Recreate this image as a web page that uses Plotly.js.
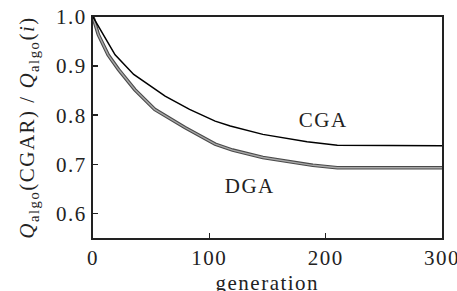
<!DOCTYPE html>
<html><head><meta charset="utf-8">
<script src="https://cdn.plot.ly/plotly-3.0.1.min.js"></script>
<style>body{margin:0;padding:0;background:#fff}#chart{width:457px;height:291px}#chart text{letter-spacing:1.5px}</style>
</head><body><div id="chart"></div>
<script>
const cgaGen = [0, 9, 19, 35, 62, 83, 105, 118, 146, 184, 210, 300];
const cgaVal = [1.0, 0.964, 0.923, 0.883, 0.839, 0.812, 0.788, 0.778, 0.761, 0.746, 0.739, 0.738];
const dgaGen = [0, 4.6, 13, 22, 36, 53, 79, 105, 120, 146, 189, 210, 300];
const dgaVal = [1.0, 0.964, 0.923, 0.893, 0.852, 0.812, 0.775, 0.741, 0.729, 0.714, 0.698, 0.693, 0.693];
const xTicks = [0, 100, 200, 300];
const yTicks = [0.6, 0.7, 0.8, 0.9, 1.0];
const xTitle = 'generation';
const yTitle = '<i>Q</i><sub>algo</sub>(CGAR) / <i>Q</i><sub>algo</sub>(<i>i</i>)';
const fontFam = 'Liberation Serif';

const traces = [
  {x: dgaGen, y: dgaVal, mode: 'lines', line: {color: '#4a4a4a', width: 3.6}, hoverinfo: 'skip'},
  {x: dgaGen, y: dgaVal, mode: 'lines', line: {color: '#a8a8a8', width: 1.4}, hoverinfo: 'skip'},
  {x: cgaGen, y: cgaVal, mode: 'lines', line: {color: '#000', width: 1.5}, hoverinfo: 'skip'}
];
const layout = {
  width: 457, height: 291,
  margin: {l: 93, r: 15, t: 17, b: 53},
  showlegend: false,
  paper_bgcolor: '#fff', plot_bgcolor: '#fff',
  font: {family: fontFam, size: 21, color: '#222'},
  xaxis: {
    range: [0, 300], tickvals: xTicks, ticktext: xTicks.map(String),
    ticks: 'inside', ticklen: 5, tickwidth: 1.5, tickcolor: '#222',
    showline: true, linecolor: '#222', linewidth: 2, mirror: true,
    showgrid: false, zeroline: false, ticklabeloverflow: 'allow',
    tickfont: {family: fontFam, size: 21}
  },
  yaxis: {
    range: [0.55, 1.0], tickvals: yTicks, ticktext: yTicks.map(v => v.toFixed(1)),
    ticks: 'inside', ticklen: 5, tickwidth: 1.5, tickcolor: '#222',
    showline: true, linecolor: '#222', linewidth: 2, mirror: true,
    showgrid: false, zeroline: false,
    tickfont: {family: fontFam, size: 21},
    title: {text: yTitle, font: {family: fontFam, size: 21}, standoff: 20}
  },
  annotations: [
    {x: 0.5, y: -0.205, xref: 'paper', yref: 'paper', xanchor: 'center', yanchor: 'middle', text: xTitle, showarrow: false, font: {family: fontFam, size: 21, color: '#222'}},
    {x: 198, y: 0.79, xref: 'x', yref: 'y', text: 'CGA', showarrow: false, font: {family: fontFam, size: 21, color: '#222'}},
    {x: 135, y: 0.655, xref: 'x', yref: 'y', text: 'DGA', showarrow: false, font: {family: fontFam, size: 21, color: '#222'}}
  ]
};
Plotly.newPlot('chart', traces, layout, {displayModeBar: false, staticPlot: true});
</script></body></html>
